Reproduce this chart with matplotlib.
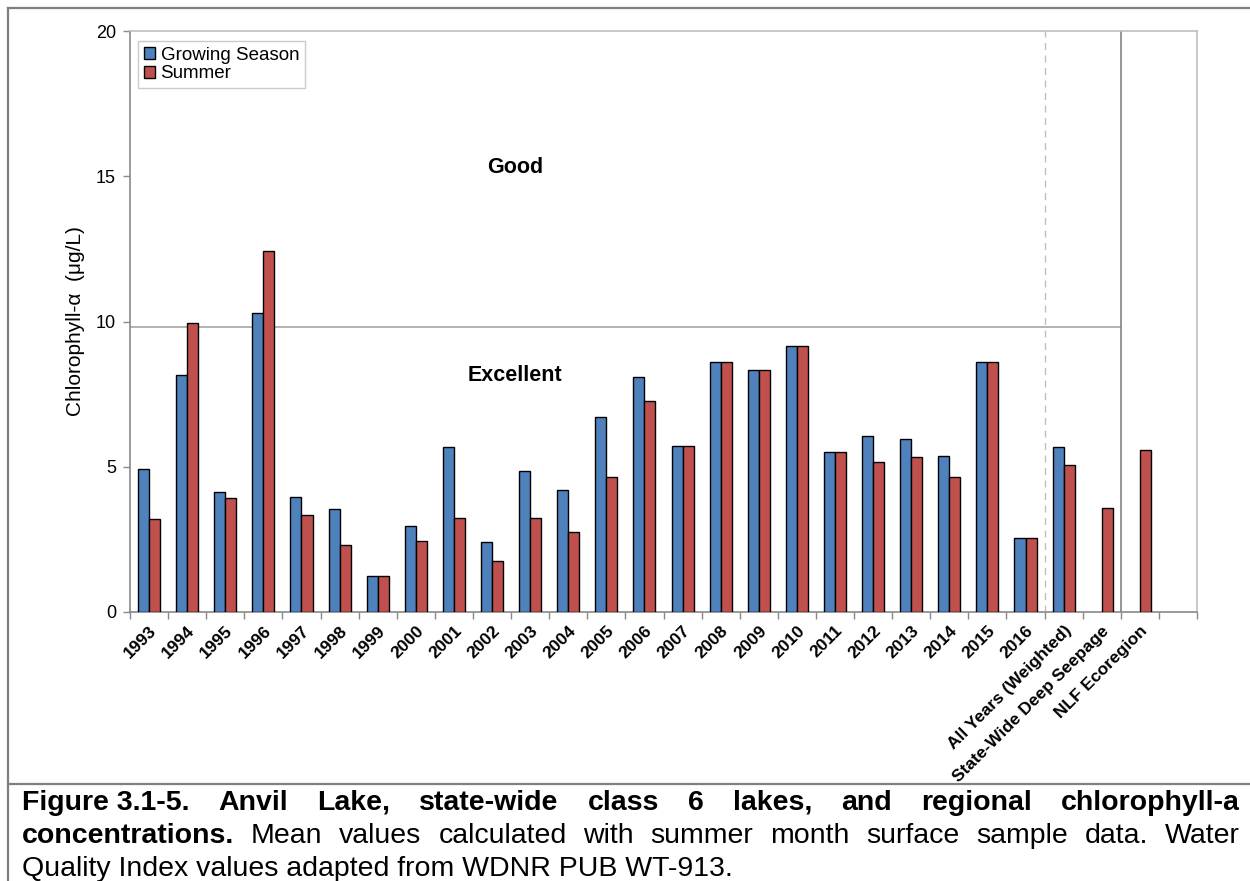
import numpy as np
import matplotlib
matplotlib.use("Agg")
import matplotlib.pyplot as plt
from matplotlib import font_manager
from matplotlib.lines import Line2D


categories = [
    "1993", "1994", "1995", "1996", "1997", "1998", "1999", "2000",
    "2001", "2002", "2003", "2004", "2005", "2006", "2007", "2008",
    "2009", "2010", "2011", "2012", "2013", "2014", "2015", "2016",
    "All Years (Weighted)", "State-Wide Deep Seepage", "NLF Ecoregion",
]
growing_season = [
    4.91, 8.15, 4.12, 10.28, 3.97, 3.55, 1.24, 2.95,
    5.67, 2.40, 4.85, 4.19, 6.70, 8.08, 5.72, 8.59,
    8.32, 9.14, 5.51, 6.06, 5.94, 5.38, 8.61, 2.56,
    5.67, np.nan, np.nan,
]
summer = [
    3.20, 9.94, 3.93, 12.43, 3.33, 2.30, 1.24, 2.43,
    3.25, 1.75, 3.25, 2.74, 4.64, 7.25, 5.72, 8.59,
    8.32, 9.14, 5.51, 5.15, 5.33, 4.65, 8.61, 2.56,
    5.07, 3.58, 5.59,
]
quality_threshold = 9.8
quality_labels = ["Good", "Excellent"]
quality_label_y = [15.3, 8.15]

caption_lines = [
    [("Figure 3.1-5.", "bold"), ("Anvil", "bold"), ("Lake,", "bold"),
     ("state-wide", "bold"), ("class", "bold"), ("6", "bold"),
     ("lakes,", "bold"), ("and", "bold"), ("regional", "bold"),
     ("chlorophyll-a", "bold")],
    [("concentrations.", "bold"), ("Mean", "normal"), ("values", "normal"),
     ("calculated", "normal"), ("with", "normal"), ("summer", "normal"),
     ("month", "normal"), ("surface", "normal"), ("sample", "normal"),
     ("data.", "normal"), ("Water", "normal")],
]
caption_last = "Quality Index values adapted from WDNR PUB WT-913."

BLUE = "#4F81BD"
RED = "#C0504D"

installed = {f.name for f in font_manager.fontManager.ttflist}
plt.rcParams["font.family"] = ["Liberation Sans", "DejaVu Sans"]
caption_font = "Liberation Sans Narrow" if "Liberation Sans Narrow" in installed else "Liberation Sans"

W, H = 1250, 881
fig = plt.figure(figsize=(12.5, 8.81), dpi=100)
ax = fig.add_axes([130 / W, 1 - 612 / H, (1197 - 130) / W, (612 - 31) / H])

x = np.arange(len(categories))
gs = np.array(growing_season, dtype=float)
su = np.array(summer, dtype=float)
bw = 0.29
has_gs = ~np.isnan(gs)
ax.bar(x[has_gs] - bw / 2, gs[has_gs], width=bw, color=BLUE,
       edgecolor="black", linewidth=1.0, label="Growing Season", zorder=3)
ax.bar(x + bw / 2, su, width=bw, color=RED,
       edgecolor="black", linewidth=1.0, label="Summer", zorder=3)

n_slots = len(categories) + 1
ax.set_xlim(-0.5, n_slots - 0.5)
ax.set_ylim(0, 20)

# quality boundary and separators
ax.plot([-0.5, len(categories) - 1.5], [quality_threshold] * 2,
        color="#A6A6A6", linewidth=1.2, zorder=2)
ax.axvline(len(categories) - 3.5, color="#BFBFBF", linewidth=1.0,
           linestyle=(0, (5, 4)), zorder=2)
ax.axvline(len(categories) - 1.5, color="#8C8C8C", linewidth=1.3, zorder=2)

for label, yv in zip(quality_labels, quality_label_y):
    ax.text(9.6, yv, label, ha="center", va="center",
            fontsize=15.5, fontweight="bold")

ax.set_yticks([0, 5, 10, 15, 20])
ax.tick_params(axis="y", direction="out", length=5, width=1,
               color="#898989", labelsize=13, pad=5)
ax.set_xticks(x)
ax.set_xticklabels(categories, fontsize=12.5, fontweight="bold")
ax.set_xticks(np.arange(n_slots + 1) - 0.5, minor=True)
ax.tick_params(axis="x", which="major", length=0, pad=8)
ax.tick_params(axis="x", which="minor", direction="out", length=5,
               width=1, color="#898989")
for lab in ax.get_xticklabels():
    lab.set_rotation(45)
    lab.set_ha("right")
    lab.set_va("top")
    lab.set_rotation_mode("anchor")

for side in ["left", "bottom"]:
    ax.spines[side].set_color("#898989")
    ax.spines[side].set_linewidth(1.2)
for side in ["top", "right"]:
    ax.spines[side].set_color("#BFBFBF")
    ax.spines[side].set_linewidth(1.2)

ax.set_ylabel("Chlorophyll-\u03b1  (\u03bcg/L)", fontsize=15)
ax.yaxis.set_label_coords(-0.042, 0.5)

ax.legend(loc="upper left", bbox_to_anchor=(0.0075, 0.983), borderaxespad=0,
          fontsize=13.5, frameon=True, fancybox=False, edgecolor="#BFBFBF",
          handlelength=0.6, handleheight=0.6, handletextpad=0.3,
          labelspacing=0.1, borderpad=0.3)

# page frame and caption separator
frame_kw = dict(color="#7F7F7F", linewidth=1.6, transform=fig.transFigure)
fig.add_artist(Line2D([8 / W, 1], [1 - 8 / H] * 2, **frame_kw))
fig.add_artist(Line2D([8 / W] * 2, [0, 1 - 8 / H], **frame_kw))
fig.add_artist(Line2D([8 / W, 1], [1 - 784 / H] * 2, **frame_kw))

# justified caption
fig.canvas.draw()
renderer = fig.canvas.get_renderer()
cap_size = 20.5
left_px, right_px = 22, 1240
line_y = [803, 836]


def word_width(word, weight):
    t = fig.text(0, 0, word, fontsize=cap_size, fontweight=weight,
                 family=caption_font)
    w = t.get_window_extent(renderer).width
    t.remove()
    return w


for words, yp in zip(caption_lines, line_y):
    widths = [word_width(w, wt) for w, wt in words]
    gap = (right_px - left_px - sum(widths)) / (len(words) - 1)
    xp = left_px
    for (w, wt), ww in zip(words, widths):
        fig.text(xp / W, 1 - yp / H, w, fontsize=cap_size, fontweight=wt,
                 family=caption_font, ha="left", va="center")
        xp += ww + gap

fig.text(left_px / W, 1 - 869 / H, caption_last, fontsize=cap_size,
         family=caption_font, ha="left", va="center")

fig.savefig("out.png", dpi=100)
